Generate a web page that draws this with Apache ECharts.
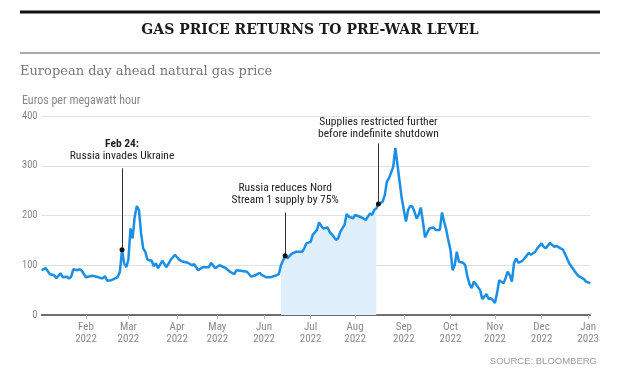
<!DOCTYPE html>
<html><head><meta charset="utf-8">
<script src="https://cdn.jsdelivr.net/npm/echarts@6/dist/echarts.min.js"></script>
<style>html,body{margin:0;padding:0;background:#fff}#c{width:640px;height:377px}</style>
</head><body><div id="c"></div>
<script>
// ---- data ----
const dates = [
'2022-01-03','2022-01-05','2022-01-07','2022-01-11','2022-01-12','2022-01-14','2022-01-17','2022-01-19','2022-01-20','2022-01-21',
'2022-01-24','2022-01-26','2022-01-27','2022-01-28','2022-02-01','2022-02-04','2022-02-08','2022-02-10','2022-02-11','2022-02-14',
'2022-02-15','2022-02-17','2022-02-21','2022-02-22','2022-02-23','2022-02-24','2022-02-25','2022-02-28','2022-03-01','2022-03-02',
'2022-03-03','2022-03-04','2022-03-07','2022-03-08','2022-03-09','2022-03-10','2022-03-11','2022-03-14','2022-03-16','2022-03-17',
'2022-03-18','2022-03-21','2022-03-23','2022-03-25','2022-03-29','2022-03-31','2022-04-04','2022-04-06','2022-04-08','2022-04-12',
'2022-04-13','2022-04-19','2022-04-21','2022-04-26','2022-04-27','2022-04-29','2022-05-03','2022-05-06','2022-05-10','2022-05-12',
'2022-05-13','2022-05-17','2022-05-20','2022-05-24','2022-05-26','2022-05-30','2022-05-31','2022-06-02','2022-06-06','2022-06-07',
'2022-06-09','2022-06-10','2022-06-13','2022-06-15','2022-06-16','2022-06-20','2022-06-22','2022-06-27','2022-06-28','2022-06-29',
'2022-07-01','2022-07-04','2022-07-06','2022-07-07','2022-07-08','2022-07-11','2022-07-13','2022-07-14','2022-07-18','2022-07-19',
'2022-07-20','2022-07-21','2022-07-25','2022-07-26','2022-07-27','2022-07-29','2022-08-01','2022-08-03','2022-08-05','2022-08-08',
'2022-08-10','2022-08-11','2022-08-12','2022-08-15','2022-08-16','2022-08-18','2022-08-19','2022-08-22','2022-08-23','2022-08-25',
'2022-08-26','2022-08-29','2022-08-30','2022-08-31','2022-09-01','2022-09-02','2022-09-05','2022-09-06','2022-09-07','2022-09-08',
'2022-09-09','2022-09-12','2022-09-13','2022-09-14','2022-09-15','2022-09-19','2022-09-21','2022-09-22','2022-09-26','2022-09-27',
'2022-09-28','2022-09-29','2022-09-30','2022-10-03','2022-10-04','2022-10-05','2022-10-06','2022-10-07','2022-10-11','2022-10-12',
'2022-10-13','2022-10-14','2022-10-17','2022-10-18','2022-10-19','2022-10-21','2022-10-24','2022-10-26','2022-10-27','2022-10-28',
'2022-10-31','2022-11-01','2022-11-02','2022-11-03','2022-11-07','2022-11-08','2022-11-09','2022-11-10','2022-11-11','2022-11-14',
'2022-11-15','2022-11-16','2022-11-18','2022-11-21','2022-11-23','2022-11-24','2022-11-28','2022-11-29','2022-12-01','2022-12-02',
'2022-12-05','2022-12-07','2022-12-09','2022-12-12','2022-12-14','2022-12-15','2022-12-19','2022-12-20','2022-12-22','2022-12-26',
'2022-12-27','2022-12-29','2022-12-30','2023-01-03'
];
const prices = [
90,94,82,80,74,84,76,77,73,77,
92,90,92,89,76,79,77,74,74,78,
69,70,74,77,87,131,104,96,111,174,
154,198,219,211,164,134,127,111,109,98,
104,94,109,96,111,121,111,107,105,100,
102,90,96,96,105,94,100,94,87,82,
90,89,87,77,80,85,80,76,76,77,
80,82,100,119,114,123,127,127,134,144,
147,161,171,186,179,174,176,167,157,151,
154,167,181,203,198,194,201,198,194,191,
204,201,211,214,223,228,241,268,275,298,
336,302,268,235,211,188,211,219,218,208,
194,201,216,188,156,174,176,171,171,206,
188,172,150,131,90,100,127,107,105,100,
77,62,54,67,62,50,32,42,32,34,
30,24,44,70,64,74,87,80,67,104,
114,105,109,114,125,121,127,134,144,137,
134,145,137,139,134,132,114,104,92,80,
77,72,67,64
];
const yTicks = [0, 100, 200, 300, 400];
const monthNames = ['Jan','Feb','Mar','Apr','May','Jun','Jul','Aug','Sep','Oct','Nov','Dec'];
const tradingStart = '2022-01-03';
const tradingEnd = '2023-01-03';
const holidays = ['2022-04-15', '2022-04-18'];
const shadeStart = '2022-06-13';
const shadeEnd = '2022-08-15';
const notes = [
  {date: '2022-02-24', top: 295, gap: 12, lines: ['Feb 24:', 'Russia invades Ukraine'], bold: true},
  {date: '2022-06-15', top: 206, gap: 12, lines: ['Russia reduces Nord', 'Stream 1 supply by 75%'], bold: false},
  {date: '2022-08-16', top: 345, gap: 9, lines: ['Supplies restricted further', 'before indefinite shutdown'], bold: false}
];

// ---- trading-day categories ----
function buildDays() {
  const out = [];
  const d = new Date(tradingStart + 'T00:00:00Z');
  const end = new Date(tradingEnd + 'T00:00:00Z');
  while (d <= end) {
    const wd = d.getUTCDay();
    const s = d.toISOString().slice(0, 10);
    if (wd !== 0 && wd !== 6 && holidays.indexOf(s) < 0) out.push(s);
    d.setUTCDate(d.getUTCDate() + 1);
  }
  return out;
}
const days = buildDays();
const monthStart = new Set();
for (let i = 1; i < days.length; i++) {
  if (days[i].slice(0, 7) !== days[i - 1].slice(0, 7)) monthStart.add(i);
}
const series = dates.map((d, i) => [d, prices[i]]);
const shade = series.filter(p => p[0] >= shadeStart && p[0] <= shadeEnd);
const priceAt = d => prices[dates.indexOf(d)];

const SANS = '"Liberation Sans Narrow", "Roboto Condensed", "Liberation Sans", sans-serif';
const chart = echarts.init(document.getElementById('c'), null, {renderer: 'canvas'});
const option = {
  animation: false,
  backgroundColor: '#fff',
  grid: {left: 41.5, right: 49.7, top: 116, bottom: 62},
  xAxis: {
    type: 'category', data: days, boundaryGap: false,
    axisLine: {lineStyle: {color: '#444', width: 1.5}},
    axisTick: {show: true, length: 4, lineStyle: {color: '#bbb'}, interval: (i) => monthStart.has(i)},
    axisLabel: {
      interval: (i) => monthStart.has(i), color: '#888', fontSize: 11, lineHeight: 12, margin: 6,
      fontFamily: SANS,
      formatter: (v) => monthNames[+v.slice(5, 7) - 1] + '\n' + v.slice(0, 4)
    },
    splitLine: {show: false}
  },
  yAxis: {
    type: 'value', min: yTicks[0], max: yTicks[yTicks.length - 1], interval: 100,
    axisLine: {show: false}, axisTick: {show: false},
    axisLabel: {color: '#888', fontSize: 10.5, margin: 4, fontFamily: SANS},
    splitLine: {lineStyle: {color: '#e2e2e2', width: 1}}
  },
  series: [
    {
      type: 'line', data: shade, symbol: 'none', z: 1, silent: true,
      lineStyle: {width: 0, opacity: 0}, areaStyle: {color: '#dff0fc', opacity: 1}
    },
    {
      type: 'line', data: series, symbol: 'none', z: 3,
      lineStyle: {color: '#1b8ee6', width: 2.5}, itemStyle: {color: '#1b8ee6'},
      markLine: {
        silent: true, symbol: ['none', 'none'], label: {show: false},
        lineStyle: {color: '#333', width: 1, type: 'solid'},
        data: notes.map(n => [{coord: [n.date, priceAt(n.date)]}, {coord: [n.date, n.top]}])
      },
      markPoint: {
        silent: true, symbol: 'circle', symbolSize: 5, label: {show: false},
        itemStyle: {color: '#111'},
        data: notes.map(n => ({coord: [n.date, priceAt(n.date)]}))
      }
    }
  ]
};
chart.setOption(option);

const g = [
  {type: 'line', shape: {x1: 20, y1: 12, x2: 600, y2: 12}, style: {stroke: '#111', lineWidth: 3}},
  {type: 'line', shape: {x1: 20, y1: 53, x2: 600, y2: 53}, style: {stroke: '#555', lineWidth: 1}},
  {type: 'text', style: {text: 'GAS PRICE RETURNS TO PRE-WAR LEVEL', x: 310, y: 30, textAlign: 'center', textVerticalAlign: 'middle', font: 'bold 14px "DejaVu Serif", serif', fill: '#1a1a1a'}},
  {type: 'text', style: {text: 'European day ahead natural gas price', x: 20, y: 72, textAlign: 'left', textVerticalAlign: 'middle', font: '13px "DejaVu Serif", serif', fill: '#777'}},
  {type: 'text', style: {text: 'Euros per megawatt hour', x: 22, y: 101, textAlign: 'left', textVerticalAlign: 'middle', font: '12px ' + SANS, fill: '#888'}},
  {type: 'text', style: {text: 'SOURCE: BLOOMBERG', x: 597, y: 361, textAlign: 'right', textVerticalAlign: 'middle', font: '9.5px "Liberation Sans", sans-serif', fill: '#999'}}
];
notes.forEach(n => {
  const p = chart.convertToPixel({xAxisIndex: 0, yAxisIndex: 0}, [n.date, n.top]);
  const l2 = p[1] - n.gap;
  const l1 = l2 - 12.5;
  g.push({type: 'text', style: {text: n.lines[0], x: p[0], y: l1, textAlign: 'center', textVerticalAlign: 'middle', font: (n.bold ? 'bold ' : '') + '11.5px ' + SANS, fill: '#222'}});
  g.push({type: 'text', style: {text: n.lines[1], x: p[0], y: l2, textAlign: 'center', textVerticalAlign: 'middle', font: '11.5px ' + SANS, fill: '#222'}});
});
chart.setOption({graphic: g});
</script>
</body></html>
